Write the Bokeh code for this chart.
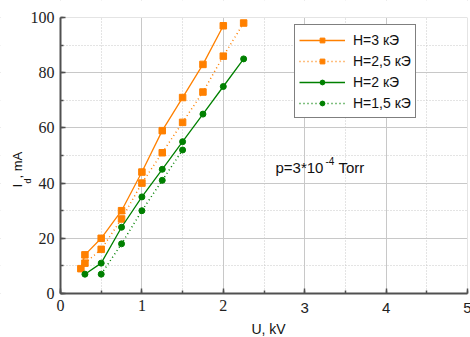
import math
from bokeh.plotting import figure
from bokeh.models import (Range1d, SingleIntervalTicker, Legend, LegendItem, Label,
                          BoxAnnotation)
from bokeh.embed import file_html
from bokeh.resources import INLINE

# ---- data ----
u_h3 = [0.25, 0.3, 0.5, 0.75, 1.0, 1.25, 1.5, 1.75, 2.0]
i_h3 = [9, 14, 20, 30, 44, 59, 71, 83, 97]

u_h25 = [0.3, 0.5, 0.75, 1.0, 1.25, 1.5, 1.75, 2.0, 2.25]
i_h25 = [11, 16, 27, 40, 51, 62, 73, 86, 98]

u_h2 = [0.3, 0.5, 0.75, 1.0, 1.25, 1.5, 1.75, 2.0, 2.25]
i_h2 = [7, 11, 24, 35, 45, 55, 65, 75, 85]

u_h15 = [0.5, 0.75, 1.0, 1.25, 1.5]
i_h15 = [7, 18, 30, 41, 52]

series_names = ["H=3 кЭ", "H=2,5 кЭ", "H=2 кЭ", "H=1,5 кЭ"]
x_ticks_sans = [3, 4, 5]
X_MIN, X_MAX = 0, 5
Y_MIN, Y_MAX = 0, 100

ORANGE = "#ff8000"
GREEN = "#008000"
SANS = "Liberation Sans"
SERIF = "Liberation Serif"

W, H = 470, 337
PL, PR, PT, PB = 60, 467, 17, 293      # plot-area edges in canvas pixels
sx = (PR - PL) / (X_MAX - X_MIN)
sy = (PB - PT) / (Y_MAX - Y_MIN)

p = figure(width=W, height=H, output_backend="svg", toolbar_location=None,
           x_range=Range1d(X_MIN - PL / sx, X_MAX + (W - PR) / sx),
           y_range=Range1d(Y_MIN - (H - PB) / sy, Y_MAX + PT / sy),
           min_border=0)
p.outline_line_color = None
p.background_fill_color = "white"
p.border_fill_color = "white"

# axes drawn at the data origin, inside the full-canvas frame
for ax in (p.xaxis[0], p.yaxis[0]):
    ax.fixed_location = 0
    ax.axis_line_color = "#505050"
    ax.axis_line_width = 2
    ax.major_tick_line_color = "#505050"
    ax.major_tick_line_width = 1.5
    ax.minor_tick_line_color = "#505050"
    ax.minor_tick_line_width = 1.5
    ax.major_tick_in = 5
    ax.major_tick_out = 0
    ax.minor_tick_in = 3
    ax.minor_tick_out = 0
    ax.major_label_text_font = SERIF
    ax.major_label_text_font_size = "16px"
    ax.major_label_text_color = "#222222"
    ax.major_label_standoff = 6
p.xaxis.bounds = (X_MIN, X_MAX)
p.yaxis.bounds = (Y_MIN, Y_MAX)

p.xaxis.ticker = SingleIntervalTicker(interval=1, num_minor_ticks=2)
p.yaxis.ticker = SingleIntervalTicker(interval=20, num_minor_ticks=2)
p.xaxis.major_label_overrides = {3: "", 4: "", 5: ""}

p.xgrid.ticker = SingleIntervalTicker(interval=1, num_minor_ticks=2)
p.ygrid.ticker = SingleIntervalTicker(interval=20, num_minor_ticks=2)
p.xgrid.bounds = (X_MIN, X_MAX)
p.ygrid.bounds = (Y_MIN, Y_MAX)
for g in (p.xgrid[0], p.ygrid[0]):
    g.grid_line_color = "#c8c8c8"
    g.grid_line_width = 1
    g.minor_grid_line_color = "#c8c8c8"
    g.minor_grid_line_dash = "1 2"
    g.minor_grid_line_width = 1

# white masks outside the plotting area (hide grid overrun)
for kw in (dict(right=X_MIN), dict(left=X_MAX), dict(top=Y_MIN), dict(bottom=Y_MAX)):
    p.add_layout(BoxAnnotation(fill_color="white", fill_alpha=1, line_color=None,
                               level="underlay", **kw))


def slabel(cx, cy, text, **kw):
    """Label positioned in canvas pixels (frame == canvas)."""
    p.add_layout(Label(x=cx, y=H - cy, x_units="screen", y_units="screen",
                       text=text, text_color="#111111", **kw))


# sans tick labels 3,4,5
for t in x_ticks_sans:
    p.add_layout(Label(x=t, y=Y_MIN - (307 - PB) / sy, text=str(t),
                       text_align="center", text_baseline="middle",
                       text_font=SANS, text_font_size="15px", text_color="#222222"))

# data lines + markers
l1 = p.line(u_h3, i_h3, line_color=ORANGE, line_width=1.3)
s1 = p.scatter(u_h3, i_h3, marker="square", size=6.5, fill_color=ORANGE, line_color=ORANGE)
l2 = p.line(u_h25, i_h25, line_color=ORANGE, line_width=1.5, line_dash="1 3")
s2 = p.scatter(u_h25, i_h25, marker="square", size=6.5, fill_color=ORANGE, line_color=ORANGE)
l3 = p.line(u_h2, i_h2, line_color=GREEN, line_width=1.3)
s3 = p.scatter(u_h2, i_h2, marker="circle", size=6, fill_color=GREEN, line_color=GREEN)
l4 = p.line(u_h15, i_h15, line_color=GREEN, line_width=1.5, line_dash="1 3")
s4 = p.scatter(u_h15, i_h15, marker="circle", size=6, fill_color=GREEN, line_color=GREEN)

legend = Legend(items=[
    LegendItem(label=series_names[0], renderers=[l1, s1]),
    LegendItem(label=series_names[1], renderers=[l2, s2]),
    LegendItem(label=series_names[2], renderers=[l3, s3]),
    LegendItem(label=series_names[3], renderers=[l4, s4]),
], location=(294, H - 118))
legend.border_line_color = "black"
legend.border_line_width = 1
legend.background_fill_color = "white"
legend.background_fill_alpha = 1
legend.label_text_font = SANS
legend.label_text_font_size = "14px"
legend.label_text_color = "#111111"
legend.glyph_width = 46
legend.glyph_height = 12
legend.label_height = 21
legend.spacing = 0
legend.padding = 4
legend.margin = 0
legend.label_standoff = 8
p.add_layout(legend, "center")

# annotation p=3*10^-4 Torr
slabel(275, 167, "p=3*10", text_font=SANS, text_font_size="15px",
       text_baseline="alphabetic")
slabel(325, 160, "-4", text_font=SANS, text_font_size="10px",
       text_baseline="alphabetic")
slabel(338, 167, "Torr", text_font=SANS, text_font_size="15px",
       text_baseline="alphabetic")

# x axis title
slabel(268, 328, "U, kV", text_font=SANS, text_font_size="14px",
       text_align="center", text_baseline="middle")

# y axis title: I_d, mA (rotated)
ang = math.pi / 2
slabel(17, 187, "I", angle=ang, text_font=SANS, text_font_size="13px",
       text_baseline="alphabetic")
slabel(27, 183, "d", angle=ang, text_font=SANS, text_font_size="9px",
       text_baseline="alphabetic")
slabel(17, 178, ", mA", angle=ang, text_font=SANS, text_font_size="13px",
       text_baseline="alphabetic")

open("out.html", "w").write(file_html(p, INLINE))
